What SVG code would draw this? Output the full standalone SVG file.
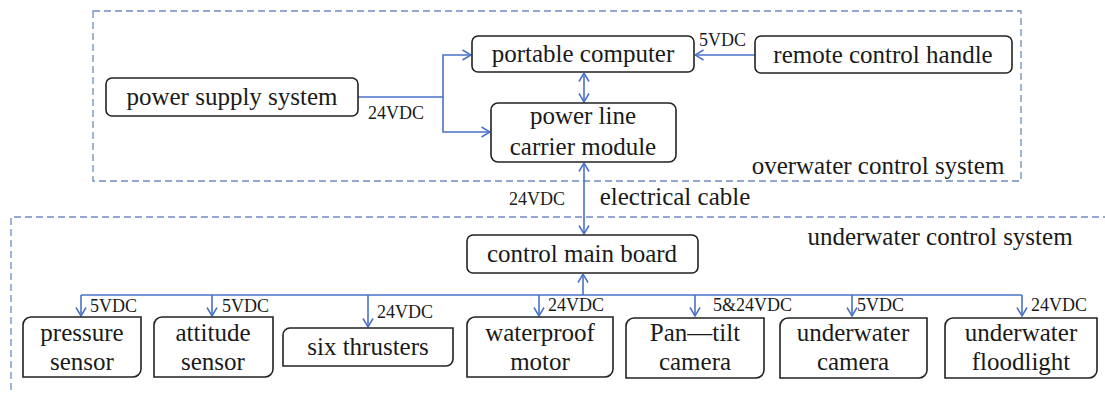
<svg xmlns="http://www.w3.org/2000/svg" width="1105" height="394" viewBox="0 0 1105 394" font-family="'Liberation Serif', 'Times New Roman', Tinos, 'DejaVu Serif', serif">
<defs>
<marker id="ah" viewBox="0 0 10 12" refX="9.5" refY="6" markerWidth="10" markerHeight="12" markerUnits="userSpaceOnUse" orient="auto-start-reverse">
<path d="M1,1 L9.5,6 L1,11" fill="none" stroke="#4a72c8" stroke-width="1.5"/>
</marker>
</defs>
<style>
text{font-family:'Liberation Serif','Times New Roman',Tinos,'DejaVu Serif',serif}
.t{font-size:25px;fill:#1a1a1a;text-anchor:middle}
.l{font-size:18px;fill:#1a1a1a}
.box{fill:#fff;stroke:#222;stroke-width:1.6}
.zone{fill:none;stroke:#6f8cc4;stroke-width:1.3;stroke-dasharray:7 4}
.c{fill:none;stroke:#4a72c8;stroke-width:1.6}
.ce{marker-end:url(#ah)}
.cb{marker-start:url(#ah);marker-end:url(#ah)}
</style>
<g id="overwater-zone">
<rect class="zone" x="93" y="11" width="928" height="170"/>
<text class="t" x="878" y="174">overwater control system</text>
</g>
<g id="underwater-zone">
<path class="zone" d="M1110,217 H11 V400"/>
<text class="t" x="940" y="245">underwater control system</text>
</g>
<g id="connectors">
<path class="c ce" d="M358,97 H443 V55 H471"/>
<path class="c ce" d="M443,97 V132 H490"/>
<path class="c ce" d="M755,55 H695"/>
<path class="c cb" d="M584,73 V102"/>
<path class="c cb" d="M584,163 V234"/>
<path class="c ce" d="M583,295 V274"/>
<path class="c" d="M81,295 H1022"/>
<path class="c ce" d="M81,295 V316"/>
<path class="c ce" d="M212,295 V316"/>
<path class="c ce" d="M368,295 V327"/>
<path class="c ce" d="M539,295 V316"/>
<path class="c ce" d="M695,295 V316"/>
<path class="c ce" d="M852,295 V316"/>
<path class="c ce" d="M1022,295 V316"/>
<text class="l" x="368" y="119">24VDC</text>
<text class="l" x="699" y="46">5VDC</text>
<text class="l" x="509" y="205">24VDC</text>
<text class="t" x="675" y="205">electrical cable</text>
<text class="l" x="90" y="312">5VDC</text>
<text class="l" x="222" y="312">5VDC</text>
<text class="l" x="377" y="318">24VDC</text>
<text class="l" x="548" y="311">24VDC</text>
<text class="l" x="713" y="311">5&amp;24VDC</text>
<text class="l" x="857" y="311">5VDC</text>
<text class="l" x="1031" y="311">24VDC</text>
</g>
<g id="power-supply-system">
<rect class="box" x="106" y="78" width="252" height="38" rx="6"/>
<text class="t" x="232" y="105">power supply system</text>
</g>
<g id="portable-computer">
<rect class="box" x="472" y="36" width="222" height="36" rx="6"/>
<text class="t" x="583" y="62">portable computer</text>
</g>
<g id="remote-control-handle">
<rect class="box" x="755" y="36" width="257" height="37" rx="6"/>
<text class="t" x="883" y="63">remote control handle</text>
</g>
<g id="power-line-carrier-module">
<rect class="box" x="491" y="103" width="185" height="59" rx="7"/>
<text class="t" x="583" y="124">power line</text>
<text class="t" x="583" y="155">carrier module</text>
</g>
<g id="control-main-board">
<rect class="box" x="467" y="235" width="231" height="38" rx="6"/>
<text class="t" x="582" y="262">control main board</text>
</g>
<g id="pressure-sensor">
<path class="box" d="M31,317 H141 V369 A8,8 0 0 1 133,377 H23 V325 A8,8 0 0 1 31,317 Z"/>
<text class="t" x="82" y="341">pressure</text>
<text class="t" x="82" y="370">sensor</text>
</g>
<g id="attitude-sensor">
<path class="box" d="M162,317 H273 V369 A8,8 0 0 1 265,377 H154 V325 A8,8 0 0 1 162,317 Z"/>
<text class="t" x="213" y="341">attitude</text>
<text class="t" x="213" y="370">sensor</text>
</g>
<g id="six-thrusters">
<path class="box" d="M290,328 H453 V359 A7,7 0 0 1 446,366 H283 V335 A7,7 0 0 1 290,328 Z"/>
<text class="t" x="368" y="355">six thrusters</text>
</g>
<g id="waterproof-motor">
<path class="box" d="M475,317 H613 V369 A8,8 0 0 1 605,377 H467 V325 A8,8 0 0 1 475,317 Z"/>
<text class="t" x="540" y="341">waterproof</text>
<text class="t" x="540" y="370">motor</text>
</g>
<g id="pan-tilt-camera">
<path class="box" d="M634,318 H764 V370 A8,8 0 0 1 756,378 H626 V326 A8,8 0 0 1 634,318 Z"/>
<text class="t" x="695" y="341">Pan—tilt</text>
<text class="t" x="695" y="370">camera</text>
</g>
<g id="underwater-camera">
<path class="box" d="M788,318 H927 V370 A8,8 0 0 1 919,378 H780 V326 A8,8 0 0 1 788,318 Z"/>
<text class="t" x="853" y="341">underwater</text>
<text class="t" x="853" y="370">camera</text>
</g>
<g id="underwater-floodlight">
<path class="box" d="M953,318 H1097 V370 A8,8 0 0 1 1089,378 H945 V326 A8,8 0 0 1 953,318 Z"/>
<text class="t" x="1021" y="341">underwater</text>
<text class="t" x="1021" y="370">floodlight</text>
</g>
</svg>
